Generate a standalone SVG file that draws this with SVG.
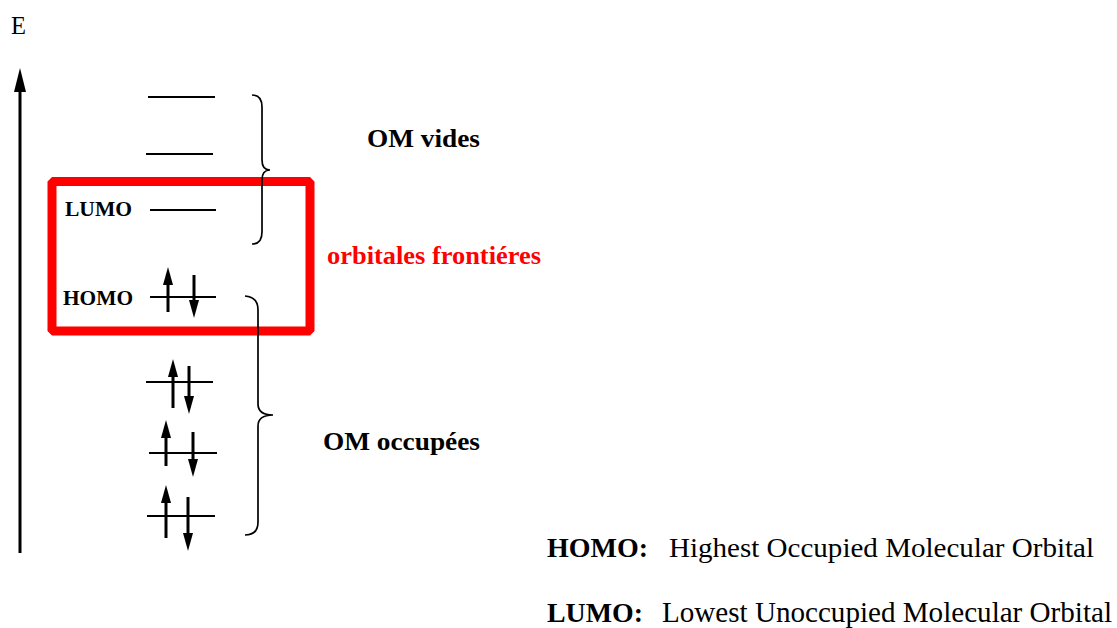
<svg xmlns="http://www.w3.org/2000/svg" width="1117" height="628" viewBox="0 0 1117 628">
<style>
.lvl{stroke:#000;stroke-width:2;fill:none}
.spin{stroke:#000;stroke-width:3;fill:none;marker-end:url(#ah)}
.brace{stroke:#000;stroke-width:1.7;fill:none}
.b{font-family:"Liberation Serif","Times New Roman",serif;font-weight:bold;fill:#000}
.r{font-family:"Liberation Serif","Times New Roman",serif;fill:#000}
</style>
<defs>
<marker id="ah" markerUnits="userSpaceOnUse" markerWidth="20" markerHeight="12" refX="9" refY="5" orient="auto">
<path d="M0,0 L18,5 L0,10 z" fill="#000"/>
</marker>
<marker id="axh" markerUnits="userSpaceOnUse" markerWidth="26" markerHeight="13" refX="12" refY="6" orient="auto">
<path d="M0,0 L24,6 L0,12 z" fill="#000"/>
</marker>
</defs>
<rect width="1117" height="628" fill="#fff"/>

<g id="axis">
<text class="r" x="11" y="34" font-size="25" textLength="15" lengthAdjust="spacingAndGlyphs">E</text>
<line x1="20" y1="553" x2="20" y2="80" stroke="#000" stroke-width="3" marker-end="url(#axh)"/>
</g>

<g id="empty-orbitals">
<line class="lvl" x1="148" y1="97" x2="215" y2="97"/>
<line class="lvl" x1="146" y1="154" x2="213" y2="154"/>
</g>

<g id="lumo">
<text class="b" x="65" y="216" font-size="20" textLength="67" lengthAdjust="spacingAndGlyphs">LUMO</text>
<line class="lvl" x1="150" y1="210" x2="216" y2="210"/>
</g>

<g id="homo">
<text class="b" x="63" y="305" font-size="20" textLength="70" lengthAdjust="spacingAndGlyphs">HOMO</text>
<line class="lvl" x1="150" y1="297" x2="216" y2="297"/>
<line class="spin" x1="168" y1="312" x2="168" y2="276"/>
<line class="spin" x1="194" y1="275" x2="194" y2="309"/>
</g>

<g id="occupied-1">
<line class="lvl" x1="146" y1="382" x2="213" y2="382"/>
<line class="spin" x1="173" y1="408" x2="173" y2="368"/>
<line class="spin" x1="189" y1="366" x2="189" y2="405"/>
</g>
<g id="occupied-2">
<line class="lvl" x1="149" y1="453" x2="217" y2="453"/>
<line class="spin" x1="166" y1="466" x2="166" y2="429"/>
<line class="spin" x1="193" y1="432" x2="193" y2="468"/>
</g>
<g id="occupied-3">
<line class="lvl" x1="147" y1="516" x2="215" y2="516"/>
<line class="spin" x1="166" y1="538" x2="166" y2="494"/>
<line class="spin" x1="188" y1="497" x2="188" y2="542"/>
</g>

<g id="frontier-box">
<rect x="52" y="181.5" width="258" height="149.5" fill="none" stroke="#ff0000" stroke-width="9" stroke-linejoin="bevel"/>
<text x="327" y="264" font-family="'Liberation Serif','Times New Roman',serif" font-weight="bold" font-size="25" fill="#ff0000" textLength="214" lengthAdjust="spacingAndGlyphs">orbitales frontiéres</text>
</g>

<g id="connectors">
<path class="brace" d="M252,95 Q262,95 262,107 L262,160 Q262,170 270,170 Q262,170 262,180 L262,232 Q262,244 252,244"/>
<path class="brace" d="M245,296 Q258,297 258,310 L258,404 Q258,415 273,415 Q258,415 258,426 L258,522 Q258,535 245,535"/>
</g>

<g id="label-vides">
<text class="b" x="367" y="147" font-size="26" textLength="113" lengthAdjust="spacingAndGlyphs">OM  vides</text>
</g>
<g id="label-occupees">
<text class="b" x="323" y="450" font-size="26" textLength="157" lengthAdjust="spacingAndGlyphs">OM  occupées</text>
</g>

<g id="legend">
<text class="b" x="547" y="557" font-size="28" textLength="101" lengthAdjust="spacingAndGlyphs">HOMO:</text>
<text class="r" x="669" y="557" font-size="28" textLength="425" lengthAdjust="spacingAndGlyphs">Highest Occupied Molecular Orbital</text>
<text class="b" x="547" y="622" font-size="28" textLength="96" lengthAdjust="spacingAndGlyphs">LUMO:</text>
<text class="r" x="662" y="622" font-size="29" textLength="450" lengthAdjust="spacingAndGlyphs">Lowest Unoccupied Molecular Orbital</text>
</g>
</svg>
